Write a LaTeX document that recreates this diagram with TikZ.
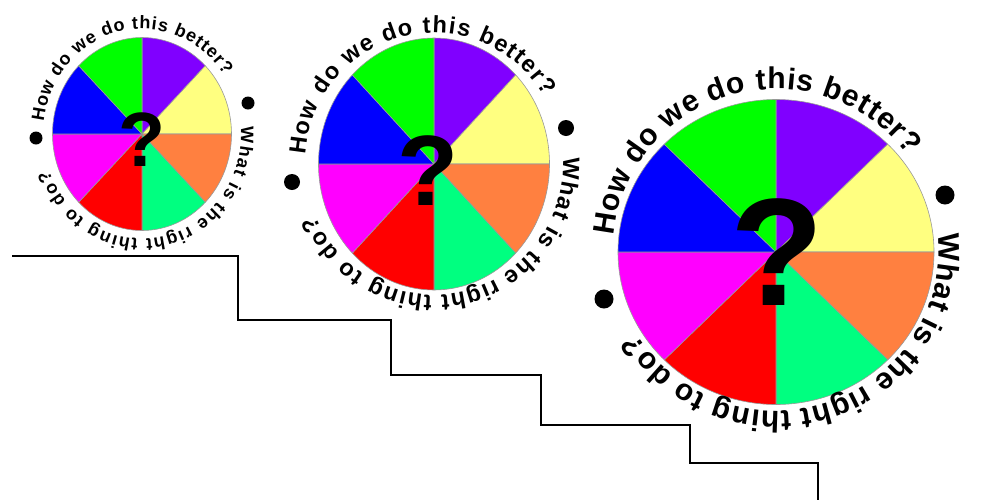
\documentclass[tikz,border=0pt]{standalone}
\usepackage{fontspec}
\setmainfont{Liberation Sans}
\usetikzlibrary{decorations.text}
\definecolor{cpurple}{HTML}{8000FF}
\definecolor{cyellow}{HTML}{FFFF80}
\definecolor{corange}{HTML}{FF8040}
\definecolor{cmint}{HTML}{00FF80}
\definecolor{cred}{HTML}{FF0000}
\definecolor{cmagenta}{HTML}{FF00FF}
\definecolor{cblue}{HTML}{0000FF}
\definecolor{cgreen}{HTML}{00FF00}
\tikzset{
  sector/.style={draw=black!40, line width=0.6pt, line join=round},
  bulletdot/.style={circle, fill=black, inner sep=0pt},
  qmark/.style={anchor=base, inner sep=0pt, text=black},
  stair/.style={draw=black, line width=2pt, line join=miter},
  ringtext/.style={decorate, decoration={text along path, text align=fit to path, text={#1}}}
}
% pie: name, cx, cy, rx, ry
\newcommand\drawpie[5]{%
  \coordinate (#1) at (#2,#3);
  \foreach \a/\c in {90/cpurple,45/cyellow,0/corange,-45/cmint,-90/cred,-135/cmagenta,-180/cblue,-225/cgreen}{%
    \filldraw[sector, fill=\c] (#1) -- ++(\a:#4 and #5)
      arc[start angle=\a, end angle=\a-45, x radius=#4, y radius=#5] -- cycle;
  }%
}
\begin{document}
\begin{tikzpicture}[x=1pt,y=1pt]
\useasboundingbox (0,0) rectangle (981,-499);
\fill[white] (0,0) rectangle (981,-499);

% staircase
\draw[stair] (12,-256) -- (238,-256) -- (238,-320) -- (391,-320) -- (391,-375)
  -- (541,-375) -- (541,-425) -- (690,-425) -- (690,-463) -- (818,-463) -- (818,-500);

% ---------- wheel 1 ----------
\drawpie{p1}{142}{-134}{89.5}{96.5}
\node[qmark, font=\bfseries\fontsize{77}{80}\selectfont] (q1) at (142.5,-166) {?};
\path[ringtext={|\bfseries\fontsize{18}{20}\selectfont|How do we do this better?}, shift={(142,-134)}]
  (173:99 and 105) arc[start angle=173, end angle=34, x radius=99, y radius=105];
\path[ringtext={|\bfseries\fontsize{18}{20}\selectfont|What is the right thing to do?}, shift={(142,-134)}]
  (4:99 and 105) arc[start angle=4, end angle=-160, x radius=99, y radius=105];
\node[bulletdot, minimum size=13pt] (d1a) at (248,-103) {};
\node[bulletdot, minimum size=13pt] (d1b) at (36,-138) {};

% ---------- wheel 2 ----------
\drawpie{p2}{434}{-164}{115.5}{126}
\node[qmark, font=\bfseries\fontsize{100}{104}\selectfont] (q2) at (428.5,-205) {?};
\path[ringtext={|\bfseries\fontsize{23.5}{26}\selectfont|How do we do this better?}, shift={(434,-164)}]
  (176:129 and 131) arc[start angle=176, end angle=31, x radius=129, y radius=131];
\path[ringtext={|\bfseries\fontsize{23.5}{26}\selectfont|What is the right thing to do?}, shift={(434,-164)}]
  (3:129 and 131) arc[start angle=3, end angle=-157, x radius=129, y radius=131];
\node[bulletdot, minimum size=16pt] (d2a) at (566,-128) {};
\node[bulletdot, minimum size=16pt] (d2b) at (292,-182) {};

% ---------- wheel 3 ----------
\drawpie{p3}{776}{-252}{158}{152.5}
\node[qmark, font=\bfseries\fontsize{153}{160}\selectfont] (q3) at (777,-305) {?};
\path[ringtext={|\bfseries\fontsize{30}{34}\selectfont|How do we do this better?}, shift={(776,-250)}]
  (175:163 and 161) arc[start angle=175, end angle=36, x radius=163, y radius=161];
\path[ringtext={|\bfseries\fontsize{30}{34}\selectfont|What is the right thing to do?}, shift={(776,-250)}]
  (6:163 and 161) arc[start angle=6, end angle=-149, x radius=163, y radius=161];
\node[bulletdot, minimum size=19pt] (d3a) at (945,-195) {};
\node[bulletdot, minimum size=19pt] (d3b) at (604,-299) {};
\end{tikzpicture}
\end{document}
